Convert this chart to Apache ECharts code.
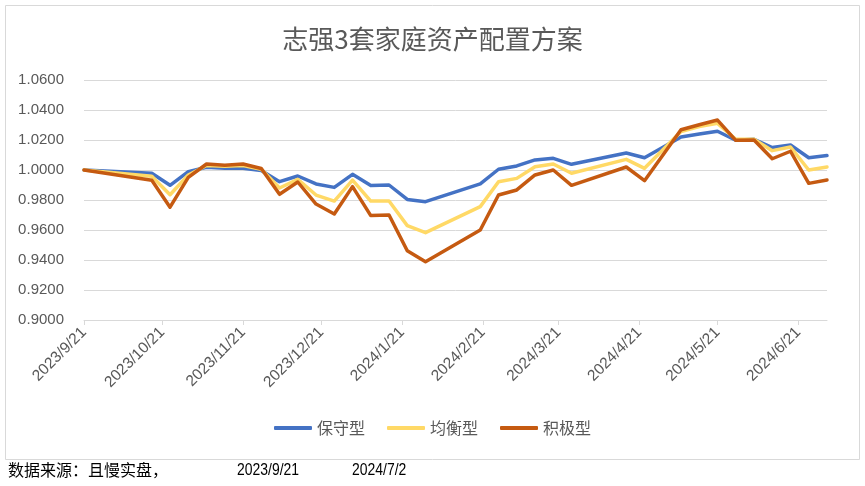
<!DOCTYPE html>
<html>
<head>
<meta charset="utf-8">
<script src="https://cdn.jsdelivr.net/npm/echarts@6/dist/echarts.min.js"></script>
<style>
html,body{margin:0;padding:0;background:#fff;}
#c{width:865px;height:486px;}
</style>
</head>
<body>
<div id="c"></div>
<script>
const titleText = '志强3套家庭资产配置方案';
const seriesNames = ['保守型', '均衡型', '积极型'];
const dates = ['2023-09-21','2023-10-17','2023-10-24','2023-10-31','2023-11-07','2023-11-14','2023-11-21','2023-11-28','2023-12-05','2023-12-12','2023-12-19','2023-12-26','2024-01-02','2024-01-09','2024-01-16','2024-01-23','2024-01-30','2024-02-20','2024-02-27','2024-03-05','2024-03-12','2024-03-19','2024-03-26','2024-04-16','2024-04-23','2024-05-07','2024-05-14','2024-05-21','2024-05-28','2024-06-04','2024-06-11','2024-06-18','2024-06-25','2024-07-02'];
const conservative = [1.0000,0.9978,0.9898,0.9989,1.0018,1.0012,1.0011,0.9997,0.9922,0.9960,0.9907,0.9884,0.9971,0.9896,0.9900,0.9804,0.9789,0.9907,1.0005,1.0027,1.0067,1.0078,1.0038,1.0113,1.0082,1.0220,1.0240,1.0258,1.0198,1.0205,1.0150,1.0167,1.0082,1.0096];
const balanced = [1.0000,0.9958,0.9835,0.9967,1.0030,1.0025,1.0030,1.0005,0.9880,0.9938,0.9833,0.9793,0.9933,0.9793,0.9793,0.9629,0.9582,0.9756,0.9922,0.9944,1.0022,1.0040,0.9978,1.0071,1.0011,1.0256,1.0289,1.0311,1.0205,1.0205,1.0129,1.0153,1.0000,1.0020];
const aggressive = [1.0000,0.9932,0.9752,0.9951,1.0040,1.0031,1.0040,1.0010,0.9838,0.9920,0.9773,0.9707,0.9889,0.9696,0.9700,0.9462,0.9389,0.9600,0.9833,0.9867,0.9967,1.0000,0.9898,1.0020,0.9929,1.0268,1.0302,1.0333,1.0198,1.0200,1.0075,1.0125,0.9911,0.9933];
const xTickDates = ['2023-09-21','2023-10-21','2023-11-21','2023-12-21','2024-01-21','2024-02-21','2024-03-21','2024-04-21','2024-05-21','2024-06-21'];
const xMin = '2023-09-21', xMax = '2024-07-02';
const yMin = 0.9, yMax = 1.06, yInterval = 0.02;
const footerSource = '数据来源：且慢实盘，';
const footerStart = '2023/9/21';
const footerEnd = '2024/7/2';
const colors = ['#4472C4', '#FFD966', '#C55A11'];

const DAY = 86400000;
function utc(s){ const p = s.split('-').map(Number); return Date.UTC(p[0], p[1]-1, p[2]); }
const base = utc(xMin);
function dayOf(s){ return Math.round((utc(s) - base) / DAY); }
function labelOf(d){ const t = new Date(base + Math.round(d) * DAY); return t.getUTCFullYear()+'/'+(t.getUTCMonth()+1)+'/'+t.getUTCDate(); }
const allSeries = [conservative, balanced, aggressive];
const tickDays = xTickDates.map(dayOf);

const chart = echarts.init(document.getElementById('c'));
const txtColor = '#595959';
chart.setOption({
  backgroundColor: '#fff',
  animation: false,
  color: colors,
  title: {
    text: titleText, left: 'center', top: 21,
    textStyle: {fontFamily: 'Noto Sans CJK SC', fontSize: 26, fontWeight: 'normal', color: txtColor}
  },
  grid: {left: 84, right: 38, top: 80, bottom: 166, containLabel: false},
  legend: {
    data: seriesNames, bottom: 45, left: 'center',
    icon: 'roundRect', itemWidth: 38, itemHeight: 4, itemGap: 22,
    textStyle: {fontFamily: 'Noto Sans CJK SC', fontSize: 16, color: txtColor}
  },
  xAxis: {
    type: 'value', min: 0, max: dayOf(xMax),
    axisLine: {show: true, lineStyle: {color: '#D9D9D9', width: 1}},
    axisTick: {show: true, length: 5, lineStyle: {color: '#D9D9D9'}, customValues: tickDays},
    axisLabel: {
      customValues: tickDays, rotate: 45, margin: 10, color: txtColor,
      fontFamily: 'Liberation Sans', fontSize: 15.5, hideOverlap: false,
      formatter: function(v){ return labelOf(v); }
    },
    splitLine: {show: false}
  },
  yAxis: {
    type: 'value', min: yMin, max: yMax, interval: yInterval,
    axisLine: {show: false}, axisTick: {show: false},
    axisLabel: {color: txtColor, fontFamily: 'Liberation Sans', fontSize: 15, margin: 20,
      formatter: function(v){ return v.toFixed(4); }},
    splitLine: {lineStyle: {color: '#D9D9D9', width: 1}}
  },
  series: seriesNames.map(function(n, i){
    return {
      name: n, type: 'line', showSymbol: false, symbol: 'none', smooth: false,
      lineStyle: {width: 3.5, color: colors[i], cap: 'round', join: 'round'},
      data: dates.map(function(d, j){ return [dayOf(d), allSeries[i][j]]; })
    };
  }),
  graphic: [
    {type: 'rect', left: 3, top: 3, shape: {width: 854, height: 454}, silent: true,
     style: {fill: 'none', stroke: '#D9D9D9', lineWidth: 1}, z: -1},
    {type: 'text', x: 8, y: 462, style: {text: footerSource, fontFamily: 'Noto Sans CJK SC', fontSize: 16, fill: '#000'}},
    {type: 'text', x: 237, y: 462, scaleX: 0.82, style: {text: footerStart, fontFamily: 'Liberation Sans', fontSize: 17, fill: '#000'}},
    {type: 'text', x: 352, y: 462, scaleX: 0.82, style: {text: footerEnd, fontFamily: 'Liberation Sans', fontSize: 17, fill: '#000'}}
  ]
});
</script>
</body>
</html>
